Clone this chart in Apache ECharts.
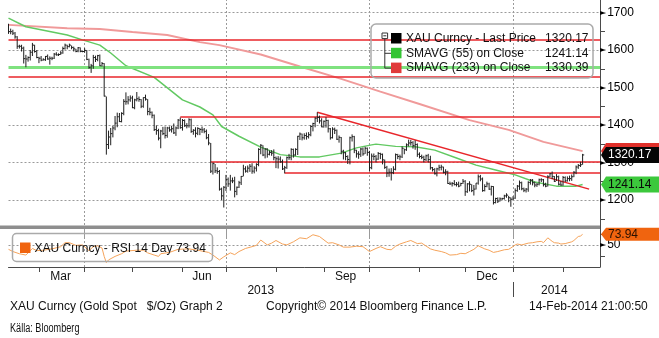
<!DOCTYPE html>
<html>
<head>
<meta charset="utf-8">
<script src="https://cdn.jsdelivr.net/npm/echarts@6/dist/echarts.min.js"></script>
<style>
  html, body { margin: 0; padding: 0; background: #fff; }
  #chart { width: 659px; height: 338px; }
</style>
</head>
<body>
<div id="chart"></div>
<script>
// ---- Time span: trading days (Mon-Fri) on the horizontal axis ----
const axisStart = '2013-02-11';
const axisEnd = '2014-02-26';

// ---- XAU spot daily bars from 11 Feb 2013: [low, high, close] ----
const goldBars = [
  // Feb 2013
  [1643,1670,1649],[1642,1657,1649],[1640,1654,1645],[1630,1648,1635],[1603,1637,1610],
  [1604,1614,1610],[1596,1614,1605],[1564,1609,1577],[1554,1587,1576],[1569,1583,1580],
  [1572,1600,1594],[1584,1619,1613],[1593,1614,1596],[1578,1600,1580],
  // Mar 2013
  [1565,1582,1578],[1570,1584,1573],[1572,1578,1574],[1571,1584,1583],[1574,1588,1576],[1561,1583,1578],
  [1573,1582,1578],[1576,1592,1589],[1585,1594,1587],[1584,1591,1588],[1587,1597,1592],
  [1590,1609,1604],[1601,1617,1613],[1602,1614,1609],[1607,1617,1613],[1602,1612,1607],
  [1596,1609,1603],[1594,1603,1596],[1594,1608,1606],[1594,1607,1596],[1594,1598,1596],
  // Apr 2013
  [1593,1605,1599],[1573,1600,1575],[1550,1577,1553],[1539,1563,1558],[1550,1587,1580],
  [1568,1585,1575],[1570,1587,1585],[1557,1588,1558],[1556,1568,1564],[1476,1565,1477],
  [1321,1476,1348],[1336,1385,1368],[1346,1392,1377],[1367,1398,1392],[1386,1424,1405],
  [1394,1433,1422],[1408,1432,1409],[1407,1434,1431],[1426,1469,1463],[1454,1487,1462],
  [1455,1477,1467],[1462,1479,1472],
  // May 2013
  [1445,1478,1446],[1442,1470,1467],[1463,1488,1470],
  [1462,1476,1468],[1445,1469,1450],[1446,1474,1473],[1465,1481,1469],[1426,1469,1436],
  [1426,1446,1434],[1418,1436,1426],[1384,1428,1388],[1374,1399,1385],[1359,1390,1365],
  [1338,1387,1384],[1373,1395,1377],[1364,1396,1372],[1366,1395,1392],[1382,1396,1387],
  [1380,1398,1390],[1376,1404,1379],[1371,1396,1392],[1389,1416,1413],[1390,1420,1393],
  // Jun 2013
  [1385,1416,1412],[1395,1415,1398],[1391,1405,1398],[1393,1418,1414],[1379,1417,1383],
  [1374,1389,1386],[1367,1394,1378],[1373,1394,1391],[1373,1392,1388],[1379,1396,1387],
  [1378,1392,1383],[1362,1388,1366],[1346,1376,1352],[1272,1352,1277],[1268,1300,1297],
  [1272,1296,1278],[1270,1287,1276],[1225,1280,1229],[1200,1233,1211],[1180,1237,1234],
  // Jul 2013
  [1224,1267,1255],[1235,1260,1243],[1225,1267,1251],[1245,1260,1251],[1207,1262,1223],
  [1213,1236,1234],[1232,1251,1246],[1240,1264,1263],[1263,1294,1283],[1273,1290,1277],
  [1273,1292,1285],[1275,1296,1290],[1270,1298,1277],[1271,1290,1285],[1276,1298,1295],
  [1290,1338,1335],[1322,1349,1346],[1317,1346,1320],[1311,1338,1336],[1313,1338,1322],
  [1319,1332,1327],[1318,1333,1325],[1306,1335,1313],
  // Aug 2013
  [1285,1316,1310],[1284,1317,1309],
  [1299,1316,1302],[1280,1308,1283],[1271,1291,1286],[1283,1316,1313],[1307,1323,1313],
  [1306,1338,1335],[1313,1337,1320],[1318,1338,1335],[1320,1371,1370],[1360,1380,1376],
  [1359,1377,1366],[1361,1378,1372],[1361,1380,1369],[1364,1381,1374],[1370,1400,1396],
  [1383,1406,1404],[1394,1421,1418],[1408,1434,1420],[1404,1425,1411],[1394,1418,1395],
  // Sep 2013
  [1393,1412,1410],[1393,1421,1412],[1380,1414,1390],[1361,1392,1366],[1364,1394,1389],
  [1376,1393,1386],[1360,1388,1362],[1353,1372,1367],[1322,1368,1330],[1308,1334,1326],
  [1306,1328,1316],[1296,1319,1308],[1295,1369,1366],[1356,1375,1369],[1325,1371,1333],
  [1313,1334,1323],[1310,1330,1322],[1315,1339,1336],[1318,1340,1323],[1323,1342,1338],
  [1318,1340,1327],
  // Oct 2013
  [1277,1331,1286],[1282,1324,1317],[1306,1324,1316],[1300,1320,1309],
  [1307,1328,1324],[1309,1326,1322],[1295,1324,1307],[1283,1308,1287],[1261,1291,1272],
  [1262,1284,1274],[1252,1285,1273],[1269,1290,1282],[1279,1324,1321],[1309,1323,1316],
  [1306,1321,1315],[1312,1343,1338],[1322,1337,1334],[1331,1351,1347],[1343,1361,1352],
  [1345,1360,1353],[1337,1357,1345],[1334,1359,1348],[1315,1351,1322],
  // Nov 2013
  [1311,1327,1316],
  [1309,1321,1314],[1300,1318,1308],[1304,1321,1318],[1300,1323,1308],[1281,1318,1286],
  [1276,1288,1281],[1268,1285,1270],[1263,1286,1283],[1278,1294,1287],[1279,1294,1288],
  [1271,1289,1274],[1266,1282,1275],[1243,1278,1244],[1240,1249,1243],[1236,1248,1244],
  [1239,1253,1241],[1236,1248,1242],[1234,1249,1237],[1237,1246,1244],[1243,1256,1250],
  // Dec 2013
  [1211,1253,1222],[1219,1245,1243],[1223,1250,1242],[1221,1242,1225],[1212,1240,1229],
  [1228,1245,1245],[1241,1268,1262],[1250,1267,1256],[1222,1260,1225],[1223,1242,1236],
  [1234,1249,1243],[1227,1246,1229],[1212,1238,1236],[1188,1237,1193],[1191,1206,1204],
  [1192,1207,1197],[1196,1207,1203],[1200,1206,1204],[1201,1214,1211],[1206,1218,1213],
  [1194,1211,1206],[1182,1207,1202],
  // Jan 2014
  [1200,1210,1205],[1203,1231,1225],[1222,1240,1237],
  [1227,1252,1246],[1226,1249,1230],[1221,1233,1226],[1220,1232,1229],[1222,1250,1247],
  [1241,1256,1253],[1239,1256,1246],[1234,1249,1240],[1235,1245,1242],[1239,1257,1254],
  [1248,1258,1254],[1236,1256,1241],[1234,1246,1237],[1236,1266,1262],[1261,1272,1270],
  [1256,1276,1263],[1248,1264,1250],[1251,1269,1262],[1239,1265,1242],[1238,1251,1240],
  // Feb 2014
  [1238,1264,1260],[1248,1263,1251],[1249,1263,1257],[1250,1265,1257],[1251,1268,1262],
  [1261,1277,1274],[1269,1292,1288],[1283,1296,1292],[1288,1302,1294],[1294,1323,1320.17]
];

// ---- 55-day simple moving average on close ----
const sma55Points = [
  ['2013-02-11',1685],['2013-02-21',1662],['2013-03-20',1640],['2013-03-29',1627],
  ['2013-04-10',1613],['2013-04-17',1592],['2013-04-26',1558],['2013-05-15',1527],
  ['2013-06-03',1467],['2013-06-13',1448],['2013-06-21',1427],['2013-06-27',1396],
  ['2013-07-09',1370],['2013-07-23',1341],['2013-08-05',1321],['2013-08-16',1315],
  ['2013-08-29',1315],['2013-09-12',1325],['2013-09-23',1339],['2013-10-02',1347],
  ['2013-10-04',1349],['2013-10-17',1343],['2013-10-30',1342],['2013-11-12',1333],
  ['2013-11-26',1312],['2013-12-09',1293],['2013-12-20',1280],['2014-01-02',1267],
  ['2014-01-15',1248],['2014-01-29',1237],['2014-02-11',1237],['2014-02-14',1241.14]
];

// ---- 233-day simple moving average on close ----
const sma233Points = [
  ['2013-02-11',1667],['2013-03-20',1658],['2013-04-10',1656],['2013-05-01',1648],
  ['2013-05-23',1640],['2013-06-13',1621],['2013-06-26',1613],['2013-07-23',1588],
  ['2013-08-16',1556],['2013-09-12',1523],['2013-10-08',1489],['2013-11-01',1456],
  ['2013-12-04',1413],['2013-12-30',1387],['2014-01-21',1355],['2014-02-14',1330.39]
];

// ---- RSI, 14 days ----
const rsi14Points = [
  ['2013-02-11',40],['2013-02-13',35],['2013-02-18',30],['2013-02-21',27],['2013-02-26',42],
  ['2013-02-28',37],['2013-03-05',38],['2013-03-11',41],['2013-03-15',46],['2013-03-19',55],
  ['2013-03-21',55],['2013-03-26',49],['2013-03-29',50],['2013-04-03',37],['2013-04-05',46],
  ['2013-04-09',48],['2013-04-11',43],['2013-04-12',24],['2013-04-15',10],['2013-04-16',16],
  ['2013-04-19',24],['2013-04-24',30],['2013-04-26',36],['2013-05-03',38],['2013-05-08',38],
  ['2013-05-10',32],['2013-05-15',27],['2013-05-17',24],['2013-05-20',30],['2013-05-24',33],
  ['2013-05-30',40],['2013-06-06',41],['2013-06-13',37],['2013-06-19',33],['2013-06-21',27],
  ['2013-06-26',16],['2013-06-28',23],['2013-07-03',32],['2013-07-05',28],['2013-07-09',35],
  ['2013-07-12',42],['2013-07-17',46],['2013-07-19',49],['2013-07-23',61],['2013-07-26',50],
  ['2013-07-30',54],['2013-08-01',60],['2013-08-06',52],['2013-08-08',50],['2013-08-13',57],
  ['2013-08-16',66],['2013-08-21',64],['2013-08-26',73],['2013-08-29',69],['2013-09-04',54],
  ['2013-09-06',55],['2013-09-11',50],['2013-09-13',45],['2013-09-18',45],['2013-09-23',47],
  ['2013-09-26',46],['2013-10-01',35],['2013-10-04',42],['2013-10-08',46],['2013-10-11',40],
  ['2013-10-15',39],['2013-10-17',47],['2013-10-21',52],['2013-10-24',57],['2013-10-28',60],
  ['2013-10-31',53],['2013-11-04',54],['2013-11-08',41],['2013-11-12',38],['2013-11-15',35],
  ['2013-11-19',32],['2013-11-21',27],['2013-11-26',28],['2013-11-28',31],['2013-12-02',30],
  ['2013-12-04',35],['2013-12-06',40],['2013-12-10',48],['2013-12-13',41],['2013-12-17',38],
  ['2013-12-19',33],['2013-12-23',35],['2013-12-26',39],['2013-12-30',40],['2013-12-31',43],
  ['2014-01-02',50],['2014-01-03',52],['2014-01-07',50],['2014-01-10',54],['2014-01-14',55],
  ['2014-01-16',57],['2014-01-20',58],['2014-01-21',55],['2014-01-23',66],['2014-01-27',58],
  ['2014-01-28',55],['2014-01-30',54],['2014-01-31',52],['2014-02-04',53],['2014-02-07',57],
  ['2014-02-10',60],['2014-02-12',69],['2014-02-13',70],['2014-02-14',73.94]
];

// ---- Drawn support / resistance studies ----
const fullRedLevels = [1628.5, 1528.8];
const fullGreenLevels = [1552.8];
const partialRedLevels = [['2013-05-31', 1422], ['2013-06-20', 1302], ['2013-08-07', 1272.8]];
const trendLine = [['2013-08-28', 1434], ['2014-02-19', 1229]];

// ---- Axis labels ----
const monthLabels = [['2013-03-15','Mar'], ['2013-06-14','Jun'], ['2013-09-16','Sep'], ['2013-12-16','Dec']];
const yearLabels = [['2013-07-23','2013'], ['2014-01-28','2014']];
const yearBreak = '2014-01-01';
const priceLabelRange = [1200, 1700];
const rsiLabelValues = [50];

// ---- Text ----
const seriesNames = ['XAU Curncy - Last Price', 'SMAVG (55) on Close', 'SMAVG (233) on Close'];
const rsiName = 'XAU Curncy - RSI 14 Day';
const footerLeft = 'XAU Curncy (Gold Spot   $/Oz) Graph 2';
const footerMid = 'Copyright\u00a9 2014 Bloomberg Finance L.P.';
const footerRight = '14-Feb-2014 21:00:50';
const sourceNote = 'K\u00e4lla: Bloomberg';

// ---------------------------------------------------------------
const FONT = '"Liberation Sans", Arial, sans-serif';
const C = {
  bar: '#1e1e1e', sma55: '#62c962', sma233: '#f09a9a', red: '#e8262b',
  green: '#7fe27f', rsi: '#f5a35a', grid: '#9a9a9a', axis: '#4a4a4a'
};

function weekdays(from, to) {
  const out = [];
  const d = new Date(from + 'T00:00:00Z');
  const end = new Date(to + 'T00:00:00Z');
  while (d <= end) {
    const wd = d.getUTCDay();
    if (wd !== 0 && wd !== 6) out.push(d.toISOString().slice(0, 10));
    d.setUTCDate(d.getUTCDate() + 1);
  }
  return out;
}
const days = weekdays(axisStart, axisEnd);
const idxOf = {};
days.forEach((d, i) => { idxOf[d] = i; });
const monthOf = d => +d.slice(5, 7);
const isMonthStart = i => i > 0 && monthOf(days[i]) !== monthOf(days[i - 1]);
const isQuarterStart = i => isMonthStart(i) && [1, 4, 7, 10].includes(monthOf(days[i]));
const monthText = Object.fromEntries(monthLabels);
const yearText = Object.fromEntries(yearLabels);
const toXY = pts => pts.map(p => [idxOf[p[0]], p[1]]);

const lastBar = goldBars[goldBars.length - 1];
const lastClose = lastBar[2];
const lastSma55 = sma55Points[sma55Points.length - 1][1];
const lastSma233 = sma233Points[sma233Points.length - 1][1];
const lastRsi = rsi14Points[rsi14Points.length - 1][1];
const fmt = v => v.toFixed(2);

const arrowRich = {
  a: { fontFamily: '"DejaVu Sans"', fontSize: 8, color: '#000', padding: [0, 1, 0, 0] },
  b: { fontFamily: FONT, fontSize: 12, color: '#000' }
};
const dotted = { color: C.grid, width: 1, type: [2, 2] };

const chart = echarts.init(document.getElementById('chart'), null, { renderer: 'canvas' });

const markData = [];
fullRedLevels.forEach(v => markData.push({ yAxis: v, lineStyle: { color: C.red, width: 1.5, type: 'solid' } }));
fullGreenLevels.forEach(v => markData.push({ yAxis: v, lineStyle: { color: C.green, width: 3, type: 'solid' } }));
partialRedLevels.forEach(p => markData.push([
  { coord: [idxOf[p[0]], p[1]], lineStyle: { color: C.red, width: 1.5, type: 'solid' } },
  { coord: [days.length - 1, p[1]] }
]));
markData.push([
  { coord: [idxOf[trendLine[0][0]], trendLine[0][1]], lineStyle: { color: C.red, width: 1.5, type: 'solid' } },
  { coord: [idxOf[trendLine[1][0]], trendLine[1][1]] }
]);

chart.setOption({
  animation: false,
  backgroundColor: '#fff',
  grid: [
    { left: 8.5, right: 59, top: -25, height: 262.5, containLabel: false, outerBoundsMode: 'none' },
    { left: 8.5, right: 59, top: 229, height: 38, containLabel: false, outerBoundsMode: 'none' }
  ],
  xAxis: [
    {
      type: 'category', gridIndex: 0, data: days, boundaryGap: false,
      axisLine: { show: false }, axisTick: { show: false }, axisLabel: { show: false },
      splitLine: { show: true, interval: i => isQuarterStart(i), lineStyle: dotted }
    },
    {
      type: 'category', gridIndex: 1, data: days, boundaryGap: false,
      axisLine: { show: true, lineStyle: { color: C.axis, width: 1 } },
      axisTick: { show: true, interval: i => isMonthStart(i), length: 5, lineStyle: { color: C.axis } },
      axisLabel: {
        interval: i => !!monthText[days[i]], formatter: v => monthText[v] || '',
        margin: 4, fontFamily: FONT, fontSize: 12, color: '#111'
      },
      splitLine: { show: true, interval: i => isQuarterStart(i), lineStyle: dotted }
    },
    {
      type: 'category', gridIndex: 1, data: days, boundaryGap: false, position: 'bottom', offset: 15,
      axisLine: { show: false },
      axisTick: { show: true, interval: i => days[i] === yearBreak, length: 15, lineStyle: { color: C.axis } },
      axisLabel: {
        interval: i => !!yearText[days[i]], formatter: v => yearText[v] || '',
        margin: 3, fontFamily: FONT, fontSize: 12, color: '#111'
      },
      splitLine: { show: false }
    }
  ],
  yAxis: [
    {
      type: 'value', gridIndex: 0, position: 'right', min: 1100, max: 1800, interval: 100,
      axisLine: { show: true, lineStyle: { color: C.axis, width: 1 } },
      axisTick: { show: false },
      minorTick: { show: true, splitNumber: 2, length: 5, lineStyle: { color: C.axis } },
      axisLabel: {
        margin: 0, rich: arrowRich,
        formatter: v => (v >= priceLabelRange[0] && v <= priceLabelRange[1]) ? '{a|\u25BA}{b|' + v + '}' : ''
      },
      splitLine: { show: true, showMinLine: false, showMaxLine: false, lineStyle: dotted }
    },
    {
      type: 'value', gridIndex: 1, position: 'right', min: 0, max: 86, interval: 50,
      axisLine: { show: true, lineStyle: { color: C.axis, width: 1 } },
      axisTick: { show: false },
      minorTick: { show: true, splitNumber: 2, length: 5, lineStyle: { color: C.axis } },
      axisLabel: {
        margin: 0, rich: arrowRich,
        formatter: v => rsiLabelValues.includes(v) ? '{a|\u25BA}{b|' + v + '}' : ''
      },
      splitLine: { show: true, showMinLine: false, showMaxLine: false, lineStyle: dotted }
    }
  ],
  series: [
    {
      name: 'sma233', type: 'line', xAxisIndex: 0, yAxisIndex: 0, z: 2,
      data: toXY(sma233Points), showSymbol: false, smooth: false,
      lineStyle: { color: C.sma233, width: 2 }
    },
    {
      name: 'sma55', type: 'line', xAxisIndex: 0, yAxisIndex: 0, z: 3,
      data: toXY(sma55Points), showSymbol: false,
      lineStyle: { color: C.sma55, width: 1.5 },
      markLine: { silent: true, symbol: 'none', label: { show: false }, data: markData }
    },
    {
      name: 'price', type: 'custom', xAxisIndex: 0, yAxisIndex: 0, z: 5,
      data: goldBars.map((b, i) => [i, b[0], b[1], b[2]]),
      encode: { x: 0, y: [1, 2, 3] },
      renderItem: (params, api) => {
        const i = api.value(0);
        const lo = api.coord([i, api.value(1)]);
        const hi = api.coord([i, api.value(2)]);
        const cl = api.coord([i, api.value(3)]);
        return {
          type: 'group',
          children: [
            { type: 'line', shape: { x1: lo[0], y1: lo[1], x2: hi[0], y2: hi[1] }, style: { stroke: C.bar, lineWidth: 1 } },
            { type: 'line', shape: { x1: cl[0], y1: cl[1], x2: cl[0] + 1.6, y2: cl[1] }, style: { stroke: C.bar, lineWidth: 1 } }
          ]
        };
      }
    },
    {
      name: 'rsi', type: 'line', xAxisIndex: 1, yAxisIndex: 1, z: 3,
      data: toXY(rsi14Points), showSymbol: false,
      lineStyle: { color: C.rsi, width: 1 }
    }
  ]
});

// ---- Overlays: panel divider, legends, last-value tags, footer ----
const yP = v => chart.convertToPixel({ yAxisIndex: 0 }, v);
const yR = v => chart.convertToPixel({ yAxisIndex: 1 }, v);
const axisX = chart.convertToPixel({ xAxisIndex: 0 }, days.length - 1);

function valueTag(yc, fill, textFill, value, z, h) {
  const hh = h / 2;
  const out = [
    { type: 'polygon', z: z, shape: { points: [[axisX + 1, yc], [axisX + 6, yc - hh], [659, yc - hh], [659, yc + hh], [axisX + 6, yc + hh]] },
      style: { fill: fill, stroke: null } }
  ];
  if (value) {
    out.push({ type: 'text', z: z + 1, x: axisX + 8, y: yc, style: { text: value, fill: textFill, font: '12px ' + FONT, verticalAlign: 'middle' } });
  }
  return out;
}

const txt = (x, y, s, extra) => Object.assign({ type: 'text', z: 50, x: x, y: y,
  style: Object.assign({ text: s, fill: '#111', font: '12px ' + FONT, verticalAlign: 'middle' }, extra || {}) });

const legendRows = [
  { color: '#000', name: seriesNames[0], value: fmt(lastClose) },
  { color: '#33c433', name: seriesNames[1], value: fmt(lastSma55) },
  { color: '#e03a3a', name: seriesNames[2], value: fmt(lastSma233) }
];
const legendTop = 38.5, legendStep = 14.8;

const sourceText = txt(10, 329, sourceNote, { font: '12px ' + FONT });
sourceText.scaleX = 0.76;

const graphics = [
  { type: 'rect', z: 40, shape: { x: 0, y: 225.5, width: axisX, height: 3.5 }, style: { fill: '#8e8e8e' } },
  // price legend frame
  { type: 'rect', z: 45, shape: { x: 371, y: 24, width: 222, height: 54, r: 5 }, style: { fill: null, stroke: '#aaaaaa', lineWidth: 1.5 } },
  { type: 'line', z: 46, shape: { x1: 384.8, y1: 38, x2: 384.8, y2: legendTop + 2 * legendStep }, style: { stroke: '#333', lineWidth: 1 } },
  { type: 'line', z: 46, shape: { x1: 384.8, y1: legendTop + legendStep, x2: 391, y2: legendTop + legendStep }, style: { stroke: '#333', lineWidth: 1 } },
  { type: 'line', z: 46, shape: { x1: 384.8, y1: legendTop + 2 * legendStep, x2: 391, y2: legendTop + 2 * legendStep }, style: { stroke: '#333', lineWidth: 1 } },
  { type: 'rect', z: 47, shape: { x: 382, y: 33, width: 5.6, height: 5.6 }, style: { fill: '#fff', stroke: '#333', lineWidth: 1 } },
  { type: 'line', z: 48, shape: { x1: 383.3, y1: 35.8, x2: 386.3, y2: 35.8 }, style: { stroke: '#333', lineWidth: 1 } },
  // RSI legend frame
  { type: 'rect', z: 45, shape: { x: 12.5, y: 233.5, width: 200, height: 28, r: 4 }, style: { fill: null, stroke: '#aaaaaa', lineWidth: 1.5 } },
  { type: 'rect', z: 46, shape: { x: 20, y: 242.5, width: 10.5, height: 10.5 }, style: { fill: '#f0640f' } },
  txt(34.5, 249, rsiName + ' ' + fmt(lastRsi)),
  // footer
  txt(10, 307, footerLeft),
  txt(266, 307, footerMid),
  txt(529, 307, footerRight),
  sourceText
];

legendRows.forEach((r, k) => {
  const yc = legendTop + k * legendStep;
  graphics.push({ type: 'rect', z: 46, shape: { x: 391, y: yc - 5.5, width: 10.5, height: 10.5 }, style: { fill: r.color } });
  graphics.push(txt(406, yc, r.name));
  graphics.push(txt(588.5, yc, r.value, { align: 'right' }));
});

// the 233-day tag sits behind the last-price tag, only its edge shows
graphics.push(...valueTag(yP(lastSma233), '#e0302a', '#fff', '', 60, 16));
graphics.push(...valueTag(yP(lastClose), '#050505', '#fff', fmt(lastClose), 62, 16));
graphics.push(...valueTag(yP(lastSma55), '#3cc83c', '#0a0a0a', fmt(lastSma55), 64, 16));
graphics.push(...valueTag(yR(lastRsi), '#f0640f', '#2a1000', fmt(lastRsi), 66, 13));

chart.setOption({ graphic: graphics });
</script>
</body>
</html>
